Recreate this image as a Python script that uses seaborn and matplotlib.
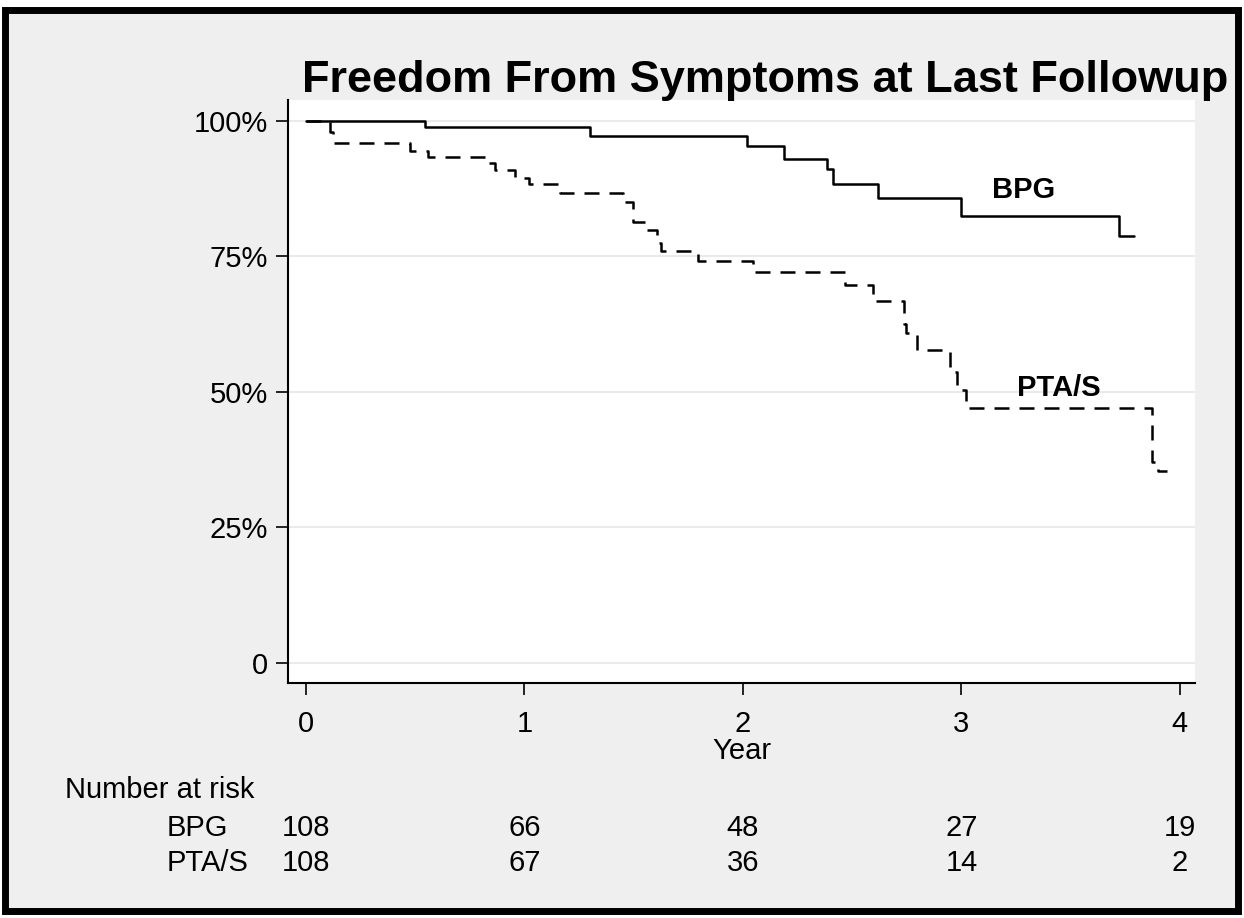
import matplotlib
matplotlib.use("Agg")
import matplotlib.pyplot as plt
from matplotlib.patches import Rectangle
import matplotlib.transforms as mtransforms
import seaborn as sns
import pandas as pd

# ---- data ----
bpg_years = [0.0, 0.545, 1.30, 2.02, 2.19, 2.386, 2.41, 2.62, 2.996, 3.72, 3.79]
bpg_surv = [100.0, 98.8, 97.3, 95.3, 93.0, 91.1, 88.4, 85.7, 82.5, 78.8, 78.8]

pta_years = [0.0, 0.11, 0.125, 0.476, 0.56, 0.82, 0.865, 0.957, 1.022, 1.162,
             1.451, 1.497, 1.551, 1.605, 1.625, 1.795, 2.047, 2.467, 2.594,
             2.735, 2.745, 2.796, 2.947, 2.98, 3.02, 3.87, 3.90, 3.94]
pta_surv = [100.0, 98.0, 95.9, 94.5, 93.4, 92.2, 90.9, 89.4, 88.3, 86.8,
            85.1, 81.4, 79.9, 77.5, 76.1, 74.1, 72.2, 69.7, 66.8,
            62.5, 60.9, 57.7, 53.7, 50.4, 47.0, 37.0, 35.5, 35.5]

groups = ["BPG", "PTA/S"]
risk_years = [0, 1, 2, 3, 4]
risk_bpg = [108, 66, 48, 27, 19]
risk_pta = [108, 67, 36, 14, 2]

y_ticks = [0, 25, 50, 75, 100]
y_ticklabels = ["0", "25%", "50%", "75%", "100%"]
x_ticks = [0, 1, 2, 3, 4]

title = "Freedom From Symptoms at Last Followup"

df = pd.concat([
    pd.DataFrame({"year": bpg_years, "surv": bpg_surv, "group": groups[0]}),
    pd.DataFrame({"year": pta_years, "surv": pta_surv, "group": groups[1]}),
], ignore_index=True)

# ---- style ----
sns.set_style("white")
plt.rcParams["font.family"] = ["Liberation Sans", "DejaVu Sans"]
plt.rcParams["text.color"] = "black"
plt.rcParams["axes.labelcolor"] = "black"
plt.rcParams["xtick.color"] = "black"
plt.rcParams["ytick.color"] = "black"

W, H = 1244, 918
fig = plt.figure(figsize=(W / 100, H / 100), dpi=100)
fig.patch.set_facecolor("white")

# outer grey panel with black frame (drawn behind the axes)
frame = Rectangle((5 / W, 1 - 911 / H), 1233 / W, 901 / H,
                  transform=fig.transFigure, facecolor="#efefef",
                  edgecolor="black", linewidth=5, zorder=-10)
fig.patches.append(frame)

L, R, T, B = 288, 1195, 100, 683
ax = fig.add_axes([L / W, 1 - B / H, (R - L) / W, (B - T) / H])
ax.set_zorder(1)
ax.set_facecolor("white")

sns.lineplot(data=df, x="year", y="surv", hue="group", style="group",
             palette={"BPG": "black", "PTA/S": "black"},
             dashes={"BPG": "", "PTA/S": (6, 4)},
             drawstyle="steps-post", estimator=None, sort=False,
             legend=False, linewidth=1.8, ax=ax, zorder=3)

ax.set_xlim(-0.082, 4.069)
ax.set_ylim(-3.69, 103.87)
ax.set_xticks(x_ticks)
ax.set_xticklabels([str(v) for v in x_ticks])
ax.set_yticks(y_ticks)
ax.set_yticklabels(y_ticklabels)
ax.yaxis.grid(True, color="#e6e6e6", linewidth=1.2)
ax.xaxis.grid(False)
ax.set_axisbelow(True)

for s in ["top", "right"]:
    ax.spines[s].set_visible(False)
for s in ["left", "bottom"]:
    ax.spines[s].set_color("black")
    ax.spines[s].set_linewidth(1.5)

ax.tick_params(axis="both", direction="out", length=8.5, width=1.2,
               color="black", labelsize=21, labelcolor="black")
ax.tick_params(axis="x", pad=11)
ax.tick_params(axis="y", pad=6)
ax.tick_params(left=True, bottom=True)

ax.set_ylabel("")
ax.set_xlabel("Year", fontsize=21, color="black")
ax.xaxis.set_label_coords(0.5, -0.092)
ax.xaxis.label.set_va("top")

# curve labels
ax.text(3.286, 87.3, "BPG", fontsize=21, fontweight="bold", ha="center",
        va="center", zorder=4)
ax.text(3.446, 50.7, "PTA/S", fontsize=21, fontweight="bold", ha="center",
        va="center", zorder=4)

# title (sits on the grey band just above the white plot area)
fig.text(1228 / W, 1 - 92 / H, title, fontsize=32.5, fontweight="bold",
         ha="right", va="baseline", zorder=5, color="black")

# number at risk table
fig.text(65 / W, 1 - 790 / H, "Number at risk", fontsize=21, ha="left",
         va="center", color="black")
trans = mtransforms.blended_transform_factory(ax.transData, fig.transFigure)
for name, counts, ypix in [(groups[0], risk_bpg, 828), (groups[1], risk_pta, 863)]:
    fig.text(167 / W, 1 - ypix / H, name, fontsize=21, ha="left",
             va="center", color="black")
    for xv, c in zip(risk_years, counts):
        ax.text(xv, 1 - ypix / H, str(c), transform=trans, fontsize=21,
                ha="center", va="center", color="black", clip_on=False)

fig.savefig("out.png", dpi=100, facecolor=fig.get_facecolor())
